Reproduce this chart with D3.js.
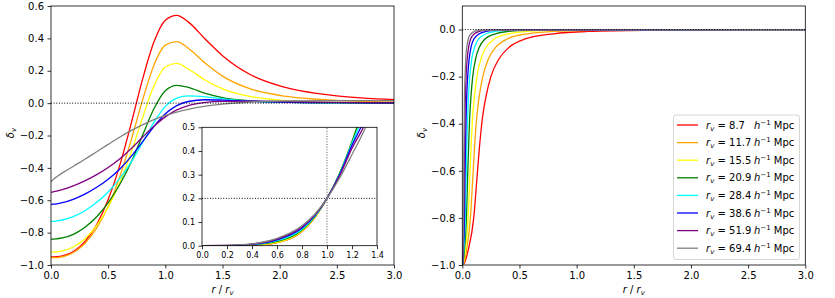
<!DOCTYPE html>
<html>
<head>
<meta charset="utf-8">
<script src="https://cdn.jsdelivr.net/npm/d3@7"></script>
<style>
  body { margin: 0; background: #fff; }
  svg { display: block; font-family: "DejaVu Sans", sans-serif; }
</style>
</head>
<body>
<svg id="figure" width="835" height="298"></svg>
<script>
'use strict';

// Void radii (h^-1 Mpc) and line colours, one entry per profile
var rvValues = [8.7, 11.7, 15.5, 20.9, 28.4, 38.6, 51.9, 69.4];
var lineColors = ['red', 'orange', 'yellow', 'green', 'cyan', 'blue', 'purple', 'gray'];

// Left panel: delta_v read at these r / r_v
var leftR = [0, 0.02, 0.05, 0.1, 0.2, 0.3, 0.4, 0.5, 0.6, 0.7, 0.8, 0.9, 1.0, 1.1, 1.2, 1.35, 1.5, 1.75, 2.0, 2.5, 3.0];
var leftProfiles = [
  [-0.95, -0.95, -0.949, -0.944, -0.915, -0.853, -0.750, -0.596, -0.388, -0.130, 0.145, 0.377, 0.512, 0.542, 0.502, 0.395, 0.293, 0.174, 0.107, 0.045, 0.022],
  [-0.955, -0.955, -0.954, -0.949, -0.921, -0.864, -0.771, -0.638, -0.457, -0.232, 0.017, 0.234, 0.358, 0.380, 0.339, 0.246, 0.167, 0.087, 0.048, 0.017, 0.007],
  [-0.92, -0.92, -0.919, -0.913, -0.887, -0.836, -0.755, -0.643, -0.494, -0.306, -0.091, 0.106, 0.223, 0.245, 0.211, 0.141, 0.088, 0.040, 0.019, 0.005, 0.002],
  [-0.84, -0.84, -0.838, -0.833, -0.809, -0.765, -0.702, -0.615, -0.504, -0.366, -0.200, -0.035, 0.077, 0.110, 0.097, 0.060, 0.034, 0.013, 0.006, 0.001, 0.000],
  [-0.73, -0.73, -0.728, -0.722, -0.700, -0.663, -0.613, -0.549, -0.467, -0.366, -0.245, -0.119, -0.020, 0.031, 0.045, 0.039, 0.026, 0.012, 0.006, 0.002, 0.001],
  [-0.625, -0.624, -0.622, -0.615, -0.593, -0.561, -0.520, -0.470, -0.408, -0.330, -0.239, -0.145, -0.066, -0.015, 0.010, 0.021, 0.019, 0.012, 0.007, 0.003, 0.001],
  [-0.55, -0.548, -0.544, -0.535, -0.510, -0.479, -0.442, -0.398, -0.345, -0.282, -0.211, -0.143, -0.085, -0.042, -0.015, 0.005, 0.011, 0.012, 0.009, 0.005, 0.002],
  [-0.485, -0.471, -0.455, -0.431, -0.388, -0.345, -0.300, -0.255, -0.211, -0.170, -0.134, -0.102, -0.076, -0.055, -0.038, -0.019, -0.006, 0.007, 0.013, 0.016, 0.015]
];

// Inset
var insetR = [0, 0.2, 0.4, 0.6, 0.8, 0.9, 1.0, 1.1, 1.2, 1.3, 1.4];
var insetProfiles = [
  [0, 0.0001, 0.002, 0.013, 0.060, 0.117, 0.2, 0.302, 0.432, 0.585, 0.76],
  [0, 0.0001, 0.002, 0.013, 0.061, 0.118, 0.2, 0.303, 0.435, 0.590, 0.77],
  [0, 0.0002, 0.003, 0.014, 0.062, 0.118, 0.2, 0.304, 0.438, 0.595, 0.78],
  [0, 0.0003, 0.004, 0.018, 0.066, 0.121, 0.2, 0.305, 0.440, 0.600, 0.79],
  [0, 0.0004, 0.005, 0.021, 0.070, 0.123, 0.2, 0.302, 0.433, 0.565, 0.74],
  [0, 0.0006, 0.006, 0.025, 0.075, 0.126, 0.2, 0.298, 0.424, 0.535, 0.70],
  [0, 0.0008, 0.007, 0.028, 0.079, 0.128, 0.2, 0.294, 0.412, 0.510, 0.66],
  [0, 0.0010, 0.008, 0.031, 0.084, 0.132, 0.2, 0.285, 0.385, 0.490, 0.62]
];

// Right panel: r / r_v where each profile reaches these delta_v levels
var rightDelta = [-1, -0.99, -0.94, -0.8, -0.62, -0.5, -0.38, -0.29, -0.2, -0.125, -0.075, -0.04, -0.018, -0.008, -0.003, 0];
var rightR = [
  [0, 0.020, 0.050, 0.100, 0.130, 0.150, 0.175, 0.205, 0.250, 0.320, 0.410, 0.550, 0.800, 1.100, 1.600, 3.0],
  [0, 0.014, 0.036, 0.071, 0.093, 0.107, 0.125, 0.146, 0.179, 0.228, 0.293, 0.393, 0.571, 0.785, 1.140, 3.0],
  [0, 0.010, 0.026, 0.051, 0.066, 0.077, 0.089, 0.105, 0.128, 0.163, 0.209, 0.281, 0.408, 0.561, 0.816, 3.0],
  [0, 0.007, 0.018, 0.036, 0.047, 0.055, 0.064, 0.075, 0.091, 0.116, 0.149, 0.200, 0.291, 0.400, 0.582, 3.0],
  [0, 0.005, 0.013, 0.026, 0.034, 0.039, 0.046, 0.053, 0.065, 0.083, 0.107, 0.143, 0.208, 0.286, 0.416, 3.0],
  [0, 0.004, 0.009, 0.019, 0.024, 0.028, 0.033, 0.038, 0.047, 0.060, 0.076, 0.102, 0.149, 0.205, 0.298, 3.0],
  [0, 0.003, 0.007, 0.013, 0.017, 0.020, 0.023, 0.027, 0.033, 0.043, 0.055, 0.073, 0.106, 0.146, 0.213, 3.0],
  [0, 0.002, 0.005, 0.010, 0.012, 0.014, 0.017, 0.019, 0.024, 0.030, 0.039, 0.052, 0.076, 0.105, 0.152, 3.0]
];

// Tick positions
var mainTicksX = [0, 0.5, 1, 1.5, 2, 2.5, 3];
var leftTicksY = [-1, -0.8, -0.6, -0.4, -0.2, 0, 0.2, 0.4, 0.6];
var rightTicksY = [-1, -0.8, -0.6, -0.4, -0.2, 0];
var insetTicksX = [0, 0.2, 0.4, 0.6, 0.8, 1.0, 1.2, 1.4];
var insetTicksY = [0, 0.1, 0.2, 0.3, 0.4, 0.5];

var svg = d3.select('#figure');
var fmt = d3.format('.1f');
var curveWidth = 1.3;

function makePanel(name, box, xDomain, yDomain, xTicks, yTicks, fontSize) {
  var g = svg.append('g').attr('class', name);
  g.append('rect')
    .attr('x', box.left).attr('y', box.top)
    .attr('width', box.right - box.left).attr('height', box.bottom - box.top)
    .attr('fill', '#fff');
  g.append('clipPath').attr('id', name + '-clip').append('rect')
    .attr('x', box.left).attr('y', box.top)
    .attr('width', box.right - box.left).attr('height', box.bottom - box.top);

  var x = d3.scaleLinear().domain(xDomain).range([box.left, box.right]);
  var y = d3.scaleLinear().domain(yDomain).range([box.bottom, box.top]);

  var xAxis = g.append('g').attr('transform', 'translate(0,' + box.bottom + ')')
    .call(d3.axisBottom(x).tickValues(xTicks).tickFormat(fmt).tickSize(3.5).tickPadding(3.5));
  var yAxis = g.append('g').attr('transform', 'translate(' + box.left + ',0)')
    .call(d3.axisLeft(y).tickValues(yTicks).tickFormat(fmt).tickSize(3.5).tickPadding(3.5));
  [xAxis, yAxis].forEach(function(a) {
    a.attr('font-family', null).attr('font-size', fontSize);
    a.select('.domain').remove();
    a.selectAll('line').attr('stroke', '#000').attr('stroke-width', 0.8);
    a.selectAll('text').attr('fill', '#000');
  });

  var plot = g.append('g').attr('clip-path', 'url(#' + name + '-clip)');
  return { g: g, plot: plot, x: x, y: y, box: box };
}

function addFrame(panel) {
  var b = panel.box;
  panel.g.append('rect')
    .attr('x', b.left).attr('y', b.top)
    .attr('width', b.right - b.left).attr('height', b.bottom - b.top)
    .attr('fill', 'none').attr('stroke', '#000').attr('stroke-width', 0.8);
}

function dotted(panel, x1, y1, x2, y2, color) {
  panel.plot.append('line')
    .attr('x1', panel.x(x1)).attr('y1', panel.y(y1))
    .attr('x2', panel.x(x2)).attr('y2', panel.y(y2))
    .attr('stroke', color || '#000').attr('stroke-width', 1)
    .attr('stroke-dasharray', '1,1.65');
}

function deltaLabel(xPos, yPos) {
  var t = svg.append('text')
    .attr('transform', 'translate(' + xPos + ',' + yPos + ') rotate(-90)')
    .attr('text-anchor', 'middle').attr('font-size', 10);
  t.append('tspan').attr('font-style', 'italic').text('δ');
  t.append('tspan').attr('font-style', 'italic').attr('font-size', 7).attr('dy', 2).text('v');
}

function radiusLabel(xPos, yPos) {
  var t = svg.append('text').attr('x', xPos).attr('y', yPos)
    .attr('text-anchor', 'middle').attr('font-size', 10);
  t.append('tspan').attr('font-style', 'italic').text('r');
  t.append('tspan').text(' / ');
  t.append('tspan').attr('font-style', 'italic').text('r');
  t.append('tspan').attr('font-style', 'italic').attr('font-size', 7).attr('dy', 2).text('v');
}

// ---- left panel
var left = makePanel('left', { left: 51, right: 394, top: 6, bottom: 265 },
  [0, 3], [-1, 0.6], mainTicksX, leftTicksY, 10);

leftProfiles.forEach(function(profile, k) {
  var line = d3.line()
    .x(function(d, i) { return left.x(leftR[i]); })
    .y(function(d) { return left.y(d); })
    .curve(d3.curveMonotoneX);
  left.plot.append('path').datum(profile)
    .attr('d', line).attr('fill', 'none')
    .attr('stroke', lineColors[k]).attr('stroke-width', curveWidth);
});
dotted(left, 0, 0, 3, 0);
addFrame(left);

// ---- inset
var inset = makePanel('inset', { left: 202, right: 377, top: 127.3, bottom: 245.7 },
  [0, 1.4], [0, 0.5], insetTicksX, insetTicksY, 8);
dotted(inset, 1, 0, 1, 0.5, '#555');
dotted(inset, 0, 0.2, 1.4, 0.2);
insetProfiles.forEach(function(profile, k) {
  var line = d3.line()
    .x(function(d, i) { return inset.x(insetR[i]); })
    .y(function(d) { return inset.y(d); })
    .curve(d3.curveMonotoneX);
  inset.plot.append('path').datum(profile)
    .attr('d', line).attr('fill', 'none')
    .attr('stroke', lineColors[k]).attr('stroke-width', curveWidth);
});
addFrame(inset);

// ---- right panel
var right = makePanel('right', { left: 462.3, right: 805.3, top: 6, bottom: 265 },
  [0, 3], [-1, 0.1], mainTicksX, rightTicksY, 10);

rightR.forEach(function(radii, k) {
  var line = d3.line()
    .x(function(d) { return right.x(d); })
    .y(function(d, i) { return right.y(rightDelta[i]); })
    .curve(d3.curveMonotoneX);
  right.plot.append('path').datum(radii)
    .attr('d', line).attr('fill', 'none')
    .attr('stroke', lineColors[k]).attr('stroke-width', curveWidth);
});
dotted(right, 0, 0, 3, 0);
addFrame(right);

// legend
var legend = svg.append('g');
legend.append('rect')
  .attr('x', 673.5).attr('y', 115).attr('width', 126).attr('height', 144.5)
  .attr('rx', 2.5).attr('fill', '#fff').attr('fill-opacity', 0.8)
  .attr('stroke', '#ccc').attr('stroke-width', 0.8);
rvValues.forEach(function(rv, i) {
  var cy = 125 + i * 17.6;
  legend.append('line')
    .attr('x1', 677).attr('x2', 698).attr('y1', cy).attr('y2', cy)
    .attr('stroke', lineColors[i]).attr('stroke-width', curveWidth);
  var t = legend.append('text').attr('x', 706).attr('y', cy + 3.6).attr('font-size', 10);
  t.append('tspan').attr('font-style', 'italic').text('r');
  t.append('tspan').attr('font-style', 'italic').attr('font-size', 7).attr('dy', 2).text('v');
  t.append('tspan').attr('dy', -2).text(' = ' + rv.toFixed(1));
  var u = legend.append('text').attr('x', 754).attr('y', cy + 3.6).attr('font-size', 10);
  u.append('tspan').attr('font-style', 'italic').text('h');
  u.append('tspan').attr('font-size', 7).attr('dy', -4).text('−1');
  u.append('tspan').attr('dy', 4).text(' Mpc');
});

// axis labels
deltaLabel(14, 133);
deltaLabel(425, 133);
radiusLabel(222.5, 292.5);
radiusLabel(633.8, 292.5);
</script>
</body>
</html>
